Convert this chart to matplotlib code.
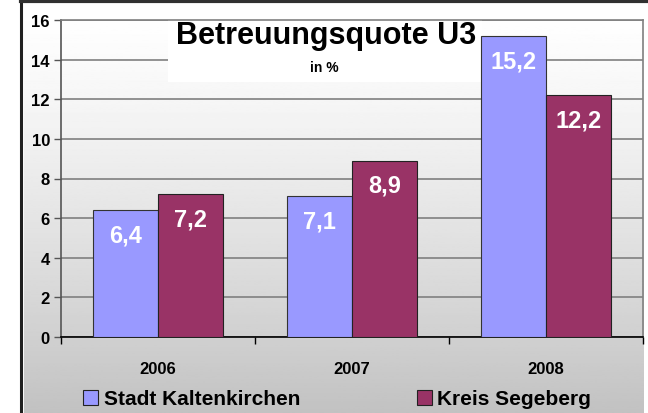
import matplotlib.pyplot as plt
import numpy as np
from matplotlib.patches import Rectangle
from matplotlib.lines import Line2D

plt.rcParams['font.family'] = ['Liberation Sans', 'DejaVu Sans']
plt.rcParams['font.weight'] = 'bold'

years = ['2006', '2007', '2008']
kaltenkirchen = [6.4, 7.1, 15.2]
segeberg = [7.2, 8.9, 12.2]
labels_k = ['6,4', '7,1', '15,2']
labels_s = ['7,2', '8,9', '12,2']
series_names = ['Stadt Kaltenkirchen', 'Kreis Segeberg']

blue = '#9999ff'
wine = '#993366'

W, H = 648, 414
fig = plt.figure(figsize=(W / 100, H / 100), dpi=100)
fig.patch.set_facecolor('white')

# gradient background of the chart area
bg = fig.add_axes([24 / W, 0, (644 - 24) / W, (H - 5) / H], zorder=0)
grad = 1.0 - 0.24 * np.linspace(0, 1, 256) ** 1.3
bg.imshow(grad.reshape(-1, 1), aspect='auto', cmap='gray', vmin=0, vmax=1,
          extent=[0, 1, 0, 1])
bg.set_axis_off()

# outer frame lines (left and top)
fig.add_artist(Line2D([21 / W, 21 / W], [0, 1], color='#202020', lw=2.2))
fig.add_artist(Line2D([21 / W, 1], [1 - 2 / H, 1 - 2 / H], color='#303030', lw=3))

ax = fig.add_axes([61 / W, 1 - 338 / H, (643 - 61) / W, (338 - 21) / H], zorder=1)
ax.patch.set_alpha(0)

x = np.arange(len(years))
w = 0.335
bk = ax.bar(x - w / 2, kaltenkirchen, w, color=blue, edgecolor='#333333', lw=0.8, zorder=3)
bs = ax.bar(x + w / 2, segeberg, w, color=wine, edgecolor='#222222', lw=0.8, zorder=3)

for rects, labs in [(bk, labels_k), (bs, labels_s)]:
    for r, t in zip(rects, labs):
        ax.text(r.get_x() + r.get_width() / 2, r.get_height() - 1.25, t,
                ha='center', va='center', color='white', fontsize=17,
                fontweight='bold', zorder=4)

ax.set_xlim(-0.5, 2.5)
ax.set_ylim(0, 16)
ax.set_yticks(range(0, 17, 2))
ax.set_yticklabels([str(v) for v in range(0, 17, 2)], fontsize=12, fontweight='bold')
ax.set_xticks([-0.5, 0.5, 1.5, 2.5])
ax.set_xticklabels([])
ax.set_xticks(x, minor=True)
ax.set_xticklabels(years, minor=True, fontsize=12, fontweight='bold')
ax.tick_params(axis='x', which='minor', length=0, pad=17)
ax.tick_params(axis='x', which='major', length=5, width=1, color='black', direction='out')
ax.tick_params(axis='y', length=5, width=1, color='#555555', direction='out', pad=3)
ax.yaxis.grid(True, color='#808080', lw=1.2, zorder=0)
ax.set_axisbelow(True)
for s in ['top', 'right']:
    ax.spines[s].set_color('#808080')
    ax.spines[s].set_linewidth(1.2)
ax.spines['left'].set_color('#555555')
ax.spines['left'].set_linewidth(1.2)
ax.spines['bottom'].set_color('black')
ax.spines['bottom'].set_linewidth(1.2)

# title box
ax.add_patch(Rectangle((168 / W, 1 - 83 / H), (482 - 168) / W, (83 - 6) / H,
                       transform=fig.transFigure, facecolor='white', edgecolor='none',
                       zorder=2, clip_on=False))
fig.text(326 / W, 1 - 36 / H, 'Betreuungsquote U3', ha='center', va='center',
         fontsize=22, fontweight='bold', zorder=5)
fig.text(324 / W, 1 - 68 / H, 'in %', ha='center', va='center',
         fontsize=10, fontweight='bold', zorder=5)

handles = [Rectangle((0, 0), 1, 1, facecolor=blue, edgecolor='#222222', lw=0.8),
           Rectangle((0, 0), 1, 1, facecolor=wine, edgecolor='#222222', lw=0.8)]
fig.legend(handles, series_names, ncol=2, loc='center', bbox_to_anchor=(337 / W, 1 - 400 / H),
           frameon=False, prop={'size': 15, 'weight': 'bold'}, handlelength=0.72,
           handleheight=0.72, handletextpad=0.25, columnspacing=5.6, borderpad=0)

fig.savefig('out.png', dpi=100)
